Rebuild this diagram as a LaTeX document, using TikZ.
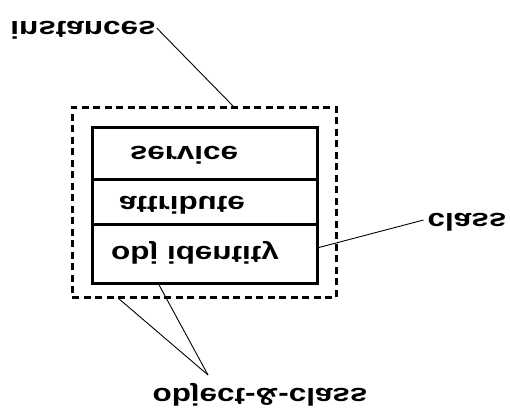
\documentclass[tikz,border=0pt]{standalone}
\usepackage{fontspec}
\setmainfont{Liberation Sans}
\usepackage{graphicx}
\newcommand{\flipped}[1]{\scalebox{1.31}[-1.02]{#1}}

\begin{document}
\begin{tikzpicture}[x=1pt,y=-1pt,
  lbl/.style={font=\fontsize{24}{26}\selectfont\bfseries, inner sep=0pt},
  part/.style={draw, line width=3pt, minimum width=225pt, inner sep=0pt},
  dashbox/.style={draw, line width=3pt, dash pattern=on 7pt off 4.5pt, minimum width=264pt, minimum height=190pt},
  lead/.style={line width=0.9pt}]
\useasboundingbox (0,0) rectangle (510,410);

\node[dashbox] (outer) at (204,202) {};
\node[part, minimum height=52pt] (svc) at (204.5,153) {};
\node[part, minimum height=45pt] (attr) at (204.5,201.5) {};
\node[part, minimum height=59pt] (ident) at (204.5,253.5) {};

\node[lbl] (svct) at (184,155) {\flipped{service}};
\node[lbl] (attrt) at (182,205) {\flipped{attribute}};
\node[lbl] (identt) at (195,253) {\flipped{obj identity}};

\node[lbl] (inst) at (83,30) {\flipped{instances}};
\node[lbl] (cls) at (467,222) {\flipped{class}};
\node[lbl] (oc) at (260,395) {\flipped{object-\&-class}};

\coordinate (inst-end) at (234,107);
\coordinate (cls-end) at (317,248);
\coordinate (oc-a) at (118,298);
\coordinate (oc-b) at (158,283);
\coordinate (oc-tip) at (208,375);

\draw[lead] (inst.east) ++(1,-2) -- (inst-end);
\draw[lead] (cls.west) ++(-4,-2) -- (cls-end);
\draw[lead] (oc-tip) -- (oc-a);
\draw[lead] (oc-tip) -- (oc-b);

\end{tikzpicture}
\end{document}
